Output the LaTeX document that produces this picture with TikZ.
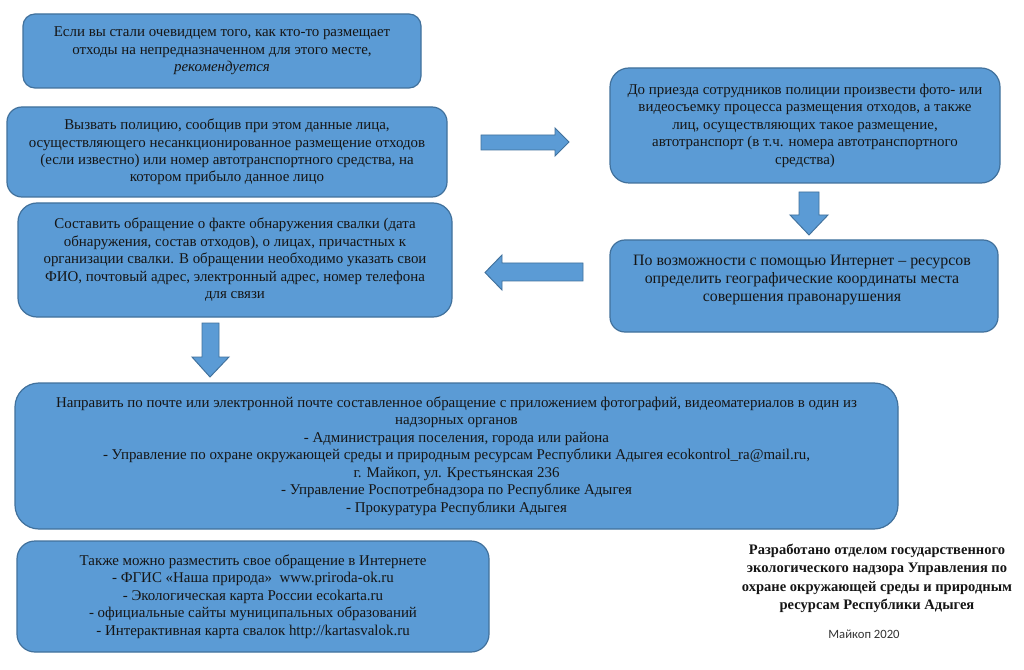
\documentclass[tikz,border=0pt]{standalone}
\usepackage{fontspec}
\setmainfont{Liberation Serif}
\newfontfamily\calibrifont{Carlito}
\definecolor{boxfill}{HTML}{5B9BD5}
\definecolor{boxline}{HTML}{41719C}
\definecolor{txt}{HTML}{151515}
\begin{document}
\begin{tikzpicture}[x=0.75pt,y=-0.75pt,
  box/.style={draw=boxline, fill=boxfill, line width=0.9pt, inner sep=0pt, align=center,
    text=txt, font=\fontsize{11.2}{13.1}\selectfont},
  blockarrow/.style={draw=boxline, fill=boxfill, line width=0.7pt, line join=miter},
  plain/.style={inner sep=0pt, align=center, text=txt}]
\useasboundingbox[fill=white] (0,0) rectangle (1024,670);

\node[box, minimum width=398*0.75pt, minimum height=74*0.75pt, rounded corners=12*0.75pt] (b1) at (222,51)
 {Если вы стали очевидцем того, как кто-то размещает\\
  отходы на непредназначенном для этого месте,\\
  \textit{рекомендуется}};

\node[box, minimum width=440*0.75pt, minimum height=90*0.75pt, rounded corners=15*0.75pt] (b2) at (227,152)
 {Вызвать полицию, сообщив при этом данные лица,\\
  осуществляющего несанкционированное размещение отходов\\
  (если известно) или номер автотранспортного средства, на\\
  котором прибыло данное лицо};

\node[box, minimum width=390*0.75pt, minimum height=115*0.75pt, rounded corners=19*0.75pt] (b3) at (805,125.5)
 {До приезда сотрудников полиции произвести фото- или\\
  видеосъемку процесса размещения отходов, а также\\
  лиц, осуществляющих такое размещение,\\
  автотранспорт (в т.ч. номера автотранспортного\\
  средства)};

\node[box, minimum width=434*0.75pt, minimum height=114*0.75pt, rounded corners=19*0.75pt] (b4) at (235,260)
 {Составить обращение о факте обнаружения свалки (дата\\
  обнаружения, состав отходов), о лицах, причастных к\\
  организации свалки. В обращении необходимо указать свои\\
  ФИО, почтовый адрес, электронный адрес, номер телефона\\
  для связи};

\node[box, minimum width=388*0.75pt, minimum height=92*0.75pt, rounded corners=15*0.75pt] (b5) at (804,286) {};
\node[plain, font=\fontsize{11.9}{13.3}\selectfont] (b5t) at (802,280)
 {По возможности с помощью Интернет – ресурсов\\
  определить географические координаты места\\
  совершения правонарушения};

\node[box, minimum width=883*0.75pt, minimum height=146*0.75pt, rounded corners=24*0.75pt] (b6) at (456.5,456)
 {Направить по почте или электронной почте составленное обращение с приложением фотографий, видеоматериалов в один из\\
  надзорных органов\\
  - Администрация поселения, города или района\\
  - Управление по охране окружающей среды и природным ресурсам Республики Адыгея ecokontrol\_ra@mail.ru,\\
  г. Майкоп, ул. Крестьянская 236\\
  - Управление Роспотребнадзора по Республике Адыгея\\
  - Прокуратура Республики Адыгея};

\node[box, minimum width=472*0.75pt, minimum height=111*0.75pt, rounded corners=18*0.75pt] (b7) at (253,596.5)
 {Также можно разместить свое обращение в Интернете\\
  - ФГИС «Наша природа»\ \ www.priroda-ok.ru\\
  - Экологическая карта России ecokarta.ru\\
  - официальные сайты муниципальных образований\\
  - Интерактивная карта свалок http://kartasvalok.ru};

\node[plain, font=\fontsize{10.9}{13.8}\selectfont\bfseries] (credit) at (877,578.5)
 {Разработано отделом государственного\\
  экологического надзора Управления по\\
  охране окружающей среды и природным\\
  ресурсам Республики Адыгея};
\node[plain, font=\calibrifont\fontsize{9.5}{10}\selectfont, text=black!80] (city) at (864,634) {Майкоп 2020};

% block arrows
\draw[blockarrow] (481,135) -- (555,135) -- (555,128) -- (569,142) -- (555,156) -- (555,150) -- (481,150) -- cycle;
\draw[blockarrow] (583,263) -- (502,263) -- (502,255) -- (485,272.5) -- (502,290) -- (502,281) -- (583,281) -- cycle;
\draw[blockarrow] (799,192) -- (819,192) -- (819,215) -- (828,215) -- (809,235) -- (790,215) -- (799,215) -- cycle;
\draw[blockarrow] (202,323) -- (219,323) -- (219,357) -- (229,357) -- (210,377) -- (192,357) -- (202,357) -- cycle;
\end{tikzpicture}
\end{document}
